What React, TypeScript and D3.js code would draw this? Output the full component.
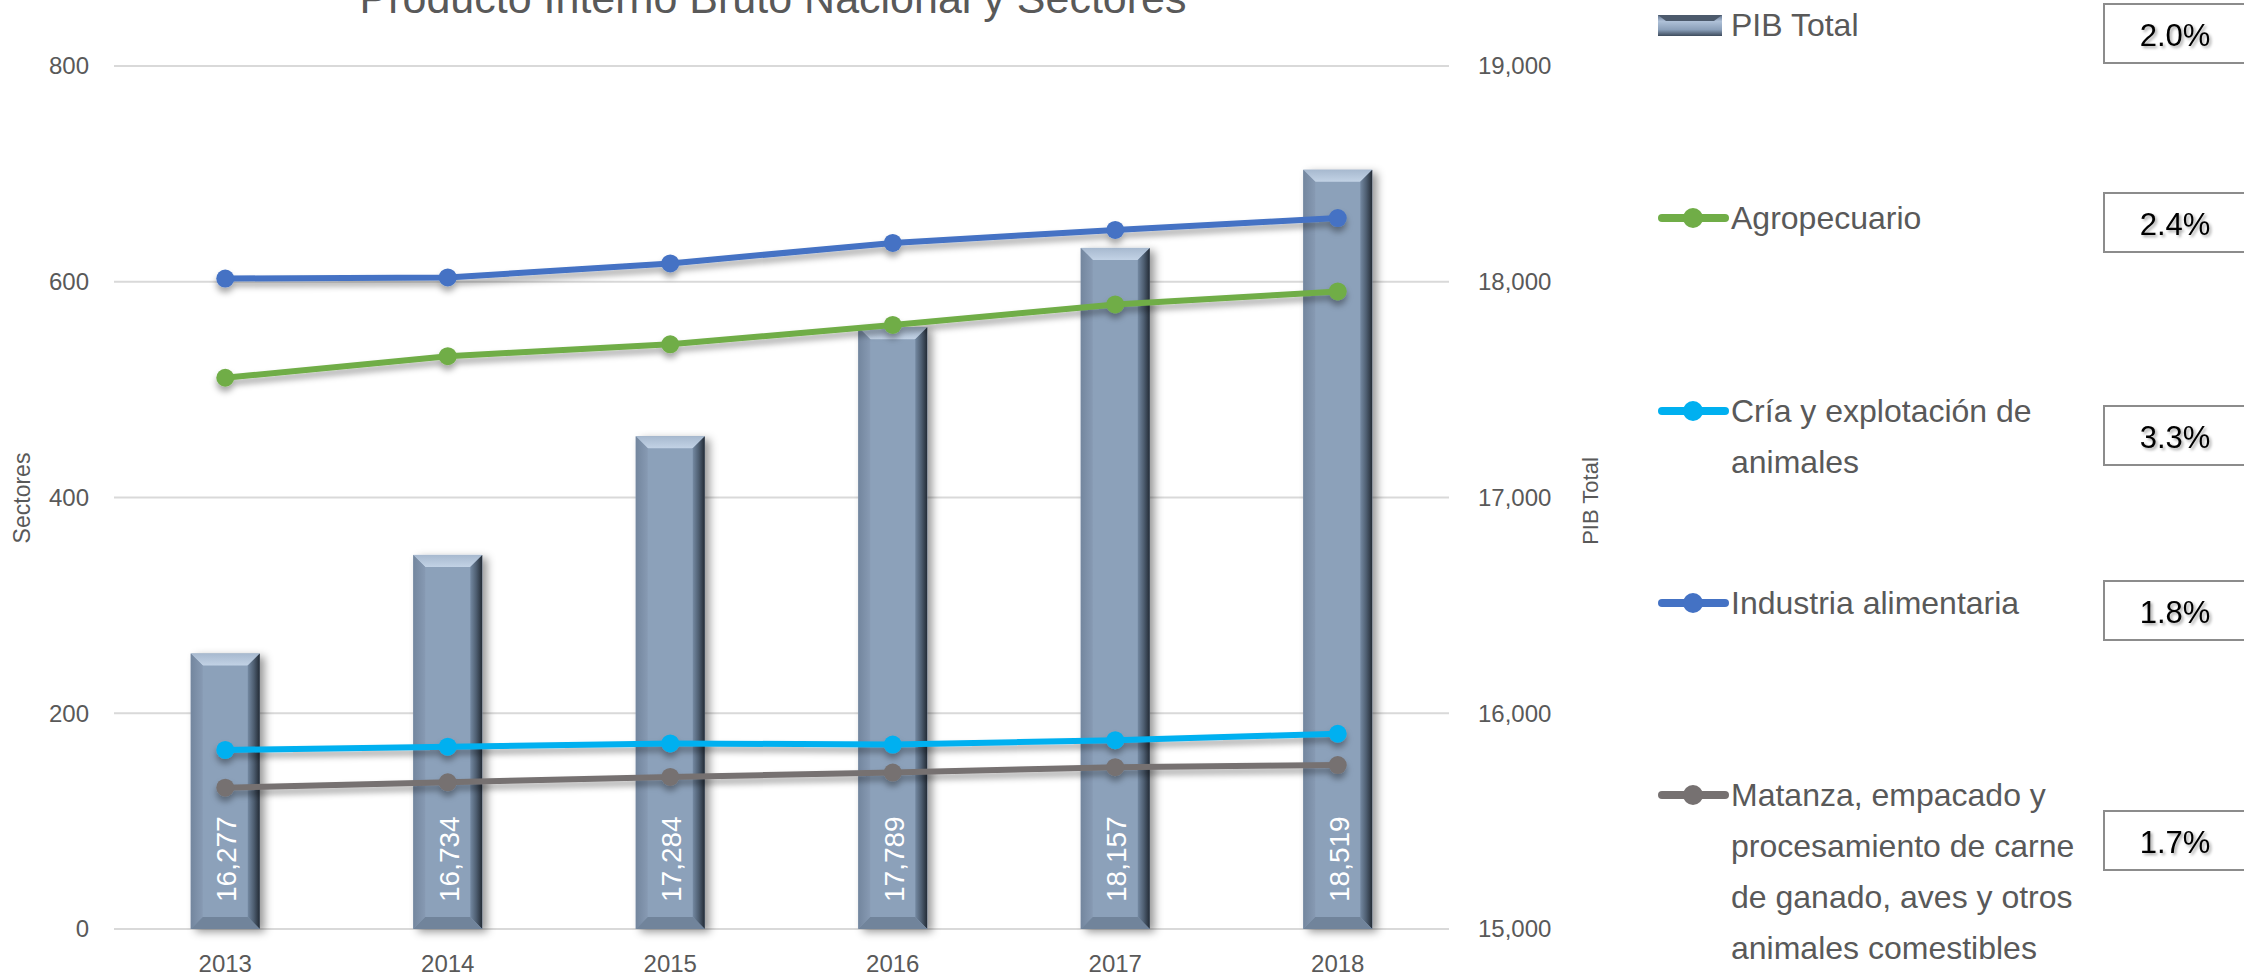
import React from 'react';
import * as d3 from 'd3';

const years = ['2013', '2014', '2015', '2016', '2017', '2018'];
const pibTotal = [16277, 16734, 17284, 17789, 18157, 18519];
const agropecuario = [511, 531, 542, 560, 579, 591];
const criaAnimales = [166, 169, 172, 171, 175, 181];
const industriaAlimentaria = [603, 604, 617, 636, 648, 659];
const matanza = [131, 136, 141, 145, 150, 152];
const leftTicks = [0, 200, 400, 600, 800];
const rightTicks = [15000, 16000, 17000, 18000, 19000];
const legendNames = [
  ['PIB Total'],
  ['Agropecuario'],
  ['Cría y explotación de', 'animales'],
  ['Industria alimentaria'],
  ['Matanza, empacado y', 'procesamiento de carne', 'de ganado, aves y otros', 'animales comestibles'],
];
const growthRates = ['2.0%', '2.4%', '3.3%', '1.8%', '1.7%'];
const lineSeries = [
  { name: 'Agropecuario', values: agropecuario, color: '#70AD47' },
  { name: 'Cría y explotación de animales', values: criaAnimales, color: '#00B0F0' },
  { name: 'Industria alimentaria', values: industriaAlimentaria, color: '#4472C4' },
  { name: 'Matanza', values: matanza, color: '#767171' },
];
const legendColors = ['bar', '#70AD47', '#00B0F0', '#4472C4', '#767171'];

const W = 2244;
const H = 978;
const FONT = '"Liberation Sans", Arial, sans-serif';
const TXT = '#595959';

const plotLeft = 114;
const plotRight = 1449;
const plotTop = 66;
const plotBottom = 929;

const legendItemY = [25, 218, 411, 603, 795];
const boxTops = [4, 193, 406, 581, 811];

export default function App() {
  React.useEffect(() => {
    document.body.style.margin = '0';
  }, []);

  const x = d3.scaleBand<string>().domain(years).range([plotLeft, plotRight]);
  const yL = d3.scaleLinear().domain([0, 800]).range([plotBottom, plotTop]);
  const yR = d3.scaleLinear().domain([15000, 19000]).range([plotBottom, plotTop]);
  const cx = (yr: string) => (x(yr) as number) + x.bandwidth() / 2;
  const barW = 69;
  const bev = 12;
  const fmt = d3.format(',');

  const lineGen = (vals: number[]) =>
    d3
      .line<number>()
      .x((_, i) => cx(years[i]))
      .y((v) => yL(v))(vals) as string;

  const barShape = (x0: number, y0: number, x1: number, y1: number, key: string) => {
    const b = Math.min(bev, (y1 - y0) / 2);
    return (
      <g key={key}>
        <g filter="url(#barShadow)">
          <rect x={x0} y={y0} width={x1 - x0} height={y1 - y0} fill="#8CA1BA" />
        </g>
        <polygon
          points={`${x0},${y0} ${x1},${y0} ${x1 - b},${y0 + b} ${x0 + b},${y0 + b}`}
          fill="url(#bevTop)"
        />
        <polygon
          points={`${x0},${y0} ${x0 + b},${y0 + b} ${x0 + b},${y1 - b} ${x0},${y1}`}
          fill="url(#bevLeft)"
        />
        <polygon
          points={`${x1},${y0} ${x1},${y1} ${x1 - b},${y1 - b} ${x1 - b},${y0 + b}`}
          fill="url(#bevRight)"
        />
        <polygon
          points={`${x0},${y1} ${x0 + b},${y1 - b} ${x1 - b},${y1 - b} ${x1},${y1}`}
          fill="#71849B"
        />
      </g>
    );
  };

  return (
    <svg
      width={W}
      height={H}
      style={{ position: 'absolute', left: 0, top: 0, background: '#fff' }}
      fontFamily={FONT}
    >
      <defs>
        <filter id="barShadow" x="-30%" y="-10%" width="160%" height="120%">
          <feDropShadow dx="5" dy="3" stdDeviation="4" floodColor="#000" floodOpacity="0.4" />
        </filter>
        <filter id="lineShadow" x="-10%" y="-50%" width="120%" height="300%">
          <feDropShadow dx="0" dy="5" stdDeviation="3" floodColor="#000" floodOpacity="0.35" />
        </filter>
        <filter id="txtShadow" x="-20%" y="-30%" width="140%" height="160%">
          <feDropShadow dx="2" dy="2" stdDeviation="1.5" floodColor="#000" floodOpacity="0.35" />
        </filter>
        <linearGradient id="bevTop" x1="0" y1="0" x2="0" y2="1">
          <stop offset="0" stopColor="#A7B9CF" />
          <stop offset="1" stopColor="#C2D2E5" />
        </linearGradient>
        <linearGradient id="bevLeft" x1="0" y1="0" x2="1" y2="0">
          <stop offset="0" stopColor="#73869E" />
          <stop offset="1" stopColor="#879AB3" />
        </linearGradient>
        <linearGradient id="bevRight" x1="0" y1="0" x2="1" y2="0">
          <stop offset="0" stopColor="#7489A2" />
          <stop offset="0.5" stopColor="#4E5E71" />
          <stop offset="1" stopColor="#232B35" />
        </linearGradient>
        <linearGradient id="legBar" x1="0" y1="0" x2="0" y2="1">
          <stop offset="0" stopColor="#5E708A" />
          <stop offset="0.3" stopColor="#AFC1D8" />
          <stop offset="0.7" stopColor="#8A9FB9" />
          <stop offset="1" stopColor="#3E4B5C" />
        </linearGradient>
      </defs>

      {/* Title */}
      <text x={773} y={13} textAnchor="middle" fontSize={43} fill={TXT}>
        Producto Interno Bruto Nacional y Sectores
      </text>

      {/* Gridlines */}
      {leftTicks.map((t) => (
        <line
          key={'g' + t}
          x1={plotLeft}
          x2={plotRight}
          y1={yL(t)}
          y2={yL(t)}
          stroke="#D9D9D9"
          strokeWidth={2}
        />
      ))}

      {/* Left ticks */}
      {leftTicks.map((t) => (
        <text key={'l' + t} x={89} y={yL(t)} dy="0.35em" textAnchor="end" fontSize={24} fill={TXT}>
          {t}
        </text>
      ))}
      {/* Right ticks */}
      {rightTicks.map((t) => (
        <text key={'r' + t} x={1478} y={yR(t)} dy="0.35em" textAnchor="start" fontSize={24} fill={TXT}>
          {fmt(t)}
        </text>
      ))}

      {/* Axis titles */}
      <text
        transform={`translate(22,498) rotate(-90)`}
        textAnchor="middle"
        dy="0.35em"
        fontSize={23}
        fill={TXT}
      >
        Sectores
      </text>
      <text
        transform={`translate(1590,501) rotate(-90)`}
        textAnchor="middle"
        dy="0.35em"
        fontSize={22}
        fill={TXT}
      >
        PIB Total
      </text>

      {/* Category labels */}
      {years.map((yr) => (
        <text key={'c' + yr} x={cx(yr)} y={964} dy="0.35em" textAnchor="middle" fontSize={24} fill={TXT}>
          {yr}
        </text>
      ))}

      {/* Bars */}
      {years.map((yr, i) =>
        barShape(cx(yr) - barW / 2, yR(pibTotal[i]), cx(yr) + barW / 2, yR(15000), 'b' + yr)
      )}

      {/* Bar labels */}
      {years.map((yr, i) => (
        <text
          key={'bl' + yr}
          transform={`translate(${cx(yr) + 1},${plotBottom - 27}) rotate(-90)`}
          dy="0.36em"
          textAnchor="start"
          fontSize={28}
          fill="#FFFFFF"
        >
          {fmt(pibTotal[i])}
        </text>
      ))}

      {/* Lines */}
      {lineSeries.map((s) => (
        <g key={'s' + s.name} filter="url(#lineShadow)">
          <path d={lineGen(s.values)} fill="none" stroke={s.color} strokeWidth={6} strokeLinecap="round" />
          {s.values.map((v, i) => (
            <circle key={i} cx={cx(years[i])} cy={yL(v)} r={9} fill={s.color} />
          ))}
        </g>
      ))}

      {/* Legend */}
      {legendNames.map((lines, i) => {
        const yy = legendItemY[i];
        const col = legendColors[i];
        return (
          <g key={'lg' + i}>
            {col === 'bar' ? (
              <g>
                <rect x={1658} y={yy - 10} width={64} height={21} fill="url(#legBar)" />
                <polygon
                  points={`${1658},${yy - 10} ${1722},${yy - 10} ${1714},${yy - 4} ${1666},${yy - 4}`}
                  fill="#4C5A6C"
                />
              </g>
            ) : (
              <g>
                <line x1={1662} x2={1725} y1={yy} y2={yy} stroke={col} strokeWidth={8} strokeLinecap="round" />
                <circle cx={1693} cy={yy} r={10} fill={col} />
              </g>
            )}
            {lines.map((ln, j) => (
              <text key={j} x={1731} y={yy + j * 51} dy="0.35em" fontSize={32} fill={TXT}>
                {ln}
              </text>
            ))}
            <rect
              x={2104}
              y={boxTops[i]}
              width={160}
              height={59}
              fill="#fff"
              stroke="#8C8C8C"
              strokeWidth={2}
            />
            <text
              x={2175}
              y={boxTops[i] + 31}
              dy="0.35em"
              textAnchor="middle"
              fontSize={31}
              fill="#000"
              filter="url(#txtShadow)"
            >
              {growthRates[i]}
            </text>
          </g>
        );
      })}
    </svg>
  );
}
